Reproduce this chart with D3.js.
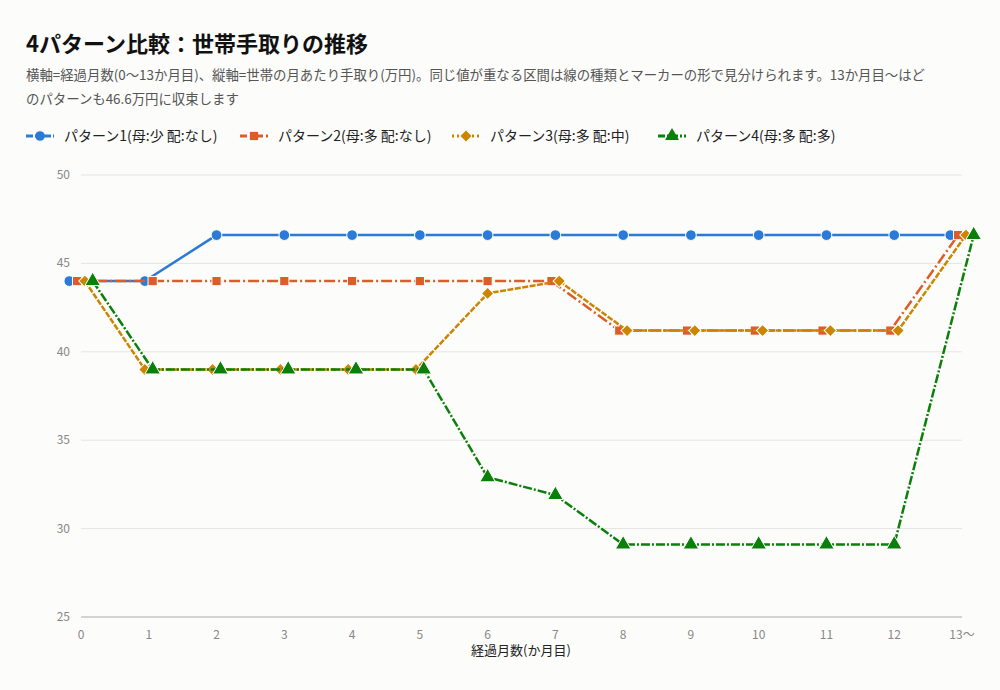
<!DOCTYPE html>
<html>
<head>
<meta charset="utf-8">
<script src="https://cdn.jsdelivr.net/npm/d3@7"></script>
<style>
  body { margin: 0; background: #fcfcfa; }
  svg { font-family: "Noto Sans CJK JP", "Noto Sans", sans-serif; }
</style>
</head>
<body>
<div id="chart"></div>
<script>
// Data
const months = [0, 1, 2, 3, 4, 5, 6, 7, 8, 9, 10, 11, 12, 13];
const tickLabels = ["0", "1", "2", "3", "4", "5", "6", "7", "8", "9", "10", "11", "12", "13～"];
const seriesNames = ["パターン1(母:少 配:なし)", "パターン2(母:多 配:なし)", "パターン3(母:多 配:中)", "パターン4(母:多 配:多)"];
const pattern1 = [44.0, 44.0, 46.6, 46.6, 46.6, 46.6, 46.6, 46.6, 46.6, 46.6, 46.6, 46.6, 46.6, 46.6];
const pattern2 = [44.0, 44.0, 44.0, 44.0, 44.0, 44.0, 44.0, 44.0, 41.2, 41.2, 41.2, 41.2, 41.2, 46.6];
const pattern3 = [44.0, 39.0, 39.0, 39.0, 39.0, 39.0, 43.3, 44.0, 41.2, 41.2, 41.2, 41.2, 41.2, 46.6];
const pattern4 = [44.0, 39.0, 39.0, 39.0, 39.0, 39.0, 32.9, 31.9, 29.1, 29.1, 29.1, 29.1, 29.1, 46.6];
const yTicks = [25, 30, 35, 40, 45, 50];

const allSeries = [pattern1, pattern2, pattern3, pattern4];
const colors = ["#2b7bd6", "#dd5c2a", "#cc8500", "#0a7f0a"];
const dashes = [null, "11,3,2,3", "6,1.5", "9,2,2,2"];
const legendDashes = ["7,2", "7,3,3,3", "2,3", "7,2,2,2"];
// diamond = square turned 45 degrees
const symbols = [d3.symbolCircle, d3.symbolSquare, d3.symbolSquare, d3.symbolTriangle];
const rotations = [0, 0, 45, 0];
const symbolSizes = [90, 85, 75, 105];

const width = 1000, height = 690;
const svg = d3.select("#chart").append("svg")
  .attr("width", width).attr("height", height);

svg.append("rect").attr("width", width).attr("height", height).attr("fill", "#fcfcfa");

// Title and subtitle
svg.append("text").attr("x", 26).attr("y", 52)
  .attr("font-size", 22).attr("font-weight", "bold").attr("fill", "#111")
  .text("4パターン比較：世帯手取りの推移");

const sub = svg.append("text").attr("font-size", 13.4).attr("fill", "#555");
sub.append("tspan").attr("x", 26).attr("y", 80)
  .text("横軸=経過月数(0～13か月目)、縦軸=世帯の月あたり手取り(万円)。同じ値が重なる区間は線の種類とマーカーの形で見分けられます。13か月目～はど");
sub.append("tspan").attr("x", 26).attr("y", 104)
  .text("のパターンも46.6万円に収束します");

// Scales
const x = d3.scaleLinear().domain([0, 13]).range([81, 962]);
const y = d3.scaleLinear().domain([25, 50]).range([617, 175]);

// Gridlines
svg.append("g").selectAll("line")
  .data(yTicks)
  .enter().append("line")
  .attr("x1", 81).attr("x2", 962)
  .attr("y1", (d) => y(d)).attr("y2", (d) => y(d))
  .attr("stroke", (d) => (d === 25 ? "#d4d4ce" : "#e4e4e2"))
  .attr("stroke-width", (d) => (d === 25 ? 2 : 1));

// Y tick labels
svg.append("g").selectAll("text")
  .data(yTicks)
  .enter().append("text")
  .attr("x", 70).attr("y", (d) => y(d) + 4)
  .attr("text-anchor", "end").attr("font-size", 12).attr("fill", "#888")
  .text((d) => d);

// X tick labels
svg.append("g").selectAll("text")
  .data(months)
  .enter().append("text")
  .attr("x", (d) => x(d)).attr("y", 639)
  .attr("text-anchor", "middle").attr("font-size", 12).attr("fill", "#888")
  .text((d, i) => tickLabels[i]);

svg.append("text").attr("x", 521).attr("y", 655)
  .attr("text-anchor", "middle").attr("font-size", 13).attr("fill", "#222")
  .text("経過月数(か月目)");

// Spread overlapping points sideways so every marker stays visible
const spacing = 7.8;
function offsetFor(si, mi) {
  const v = allSeries[si][mi];
  const group = allSeries.map((s, k) => k).filter((k) => allSeries[k][mi] === v);
  const rank = group.indexOf(si);
  return (rank - (group.length - 1) / 2) * spacing;
}

const line = d3.line()
  .x((d) => d.px)
  .y((d) => y(d.v));

allSeries.forEach((s, si) => {
  const pts = s.map((v, mi) => ({ v: v, px: x(months[mi]) + offsetFor(si, mi) }));
  svg.append("path")
    .datum(pts)
    .attr("d", line)
    .attr("fill", "none")
    .attr("stroke", colors[si])
    .attr("stroke-width", 2.5)
    .attr("stroke-dasharray", dashes[si]);
  svg.append("g").selectAll("path")
    .data(pts)
    .enter().append("path")
    .attr("d", d3.symbol().type(symbols[si]).size(symbolSizes[si]))
    .attr("transform", (d) => `translate(${d.px},${y(d.v)}) rotate(${rotations[si]})`)
    .attr("fill", colors[si])
    .attr("stroke", "#fff")
    .attr("stroke-width", 1);
});

// Legend
const legendX = [26, 240, 452, 658];
seriesNames.forEach((name, i) => {
  const g = svg.append("g").attr("transform", `translate(${legendX[i]},136)`);
  g.append("line").attr("x1", 0).attr("x2", 28).attr("y1", 0).attr("y2", 0)
    .attr("stroke", colors[i]).attr("stroke-width", 3)
    .attr("stroke-dasharray", legendDashes[i]);
  g.append("path")
    .attr("d", d3.symbol().type(symbols[i]).size(symbolSizes[i] * 0.8))
    .attr("transform", `translate(14,0) rotate(${rotations[i]})`)
    .attr("fill", colors[i]);
  g.append("text").attr("x", 38).attr("y", 5)
    .attr("font-size", 14).attr("fill", "#222")
    .text(name);
});
</script>
</body>
</html>
